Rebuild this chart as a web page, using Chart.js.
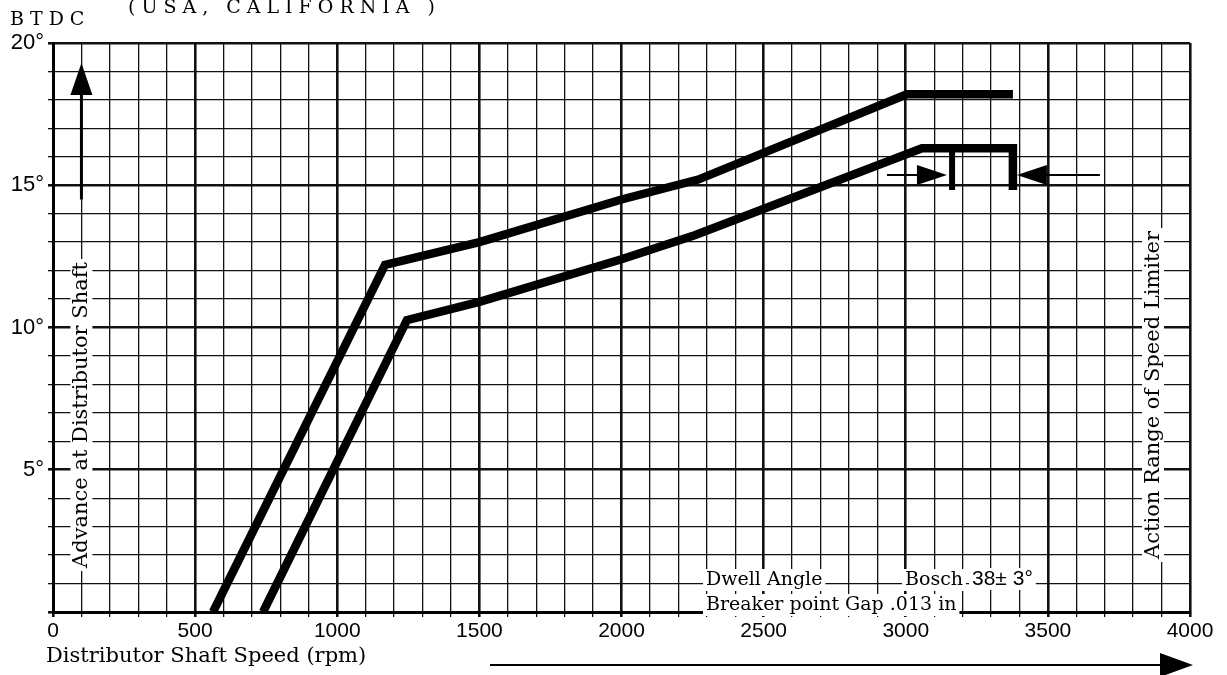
<!DOCTYPE html>
<html>
<head>
<meta charset="utf-8">
<script src="https://cdn.jsdelivr.net/npm/chart.js@4/dist/chart.umd.min.js"></script>
<style>
  html, body { margin: 0; padding: 0; background: #fff; }
</style>
</head>
<body>
<canvas id="advance" width="1227" height="675"></canvas>
<script>
// centrifugal advance curves, rpm vs degrees BTDC
const upperRpm = [563, 1168, 1500, 2000, 2270, 3004, 3377];
const upperAdv = [0, 12.2, 13.0, 14.5, 15.2, 18.2, 18.2];
const lowerRpm = [739, 1245, 1500, 2000, 2260, 3057, 3377, 3377];
const lowerAdv = [0, 10.26, 10.9, 12.4, 13.25, 16.3, 16.3, 14.83];
// speed limiter stop
const limiterRpm = [3163, 3163];
const limiterAdv = [16.3, 14.83];
const stopArrowAdv = 15.36;
const leftArrowRpm = [2934, 3145];
const rightArrowRpm = [3391, 3683];

const xLabelStep = 500;
const yLabelStep = 5;

const pts = (xs, ys) => xs.map((v, i) => ({ x: v, y: ys[i] }));

const serif = '"DejaVu Serif", serif';
const sans = '"Liberation Sans", Arial, sans-serif';

function boxedText(ctx, text, x, y, font, align) {
  ctx.font = font;
  ctx.textAlign = align || 'left';
  ctx.textBaseline = 'middle';
  const w = ctx.measureText(text).width;
  const left = align === 'center' ? x - w / 2 : x;
  ctx.fillStyle = '#fff';
  ctx.fillRect(left - 3, y - 11, w + 6, 22);
  ctx.fillStyle = '#000';
  ctx.fillText(text, x, y);
}

function triangle(ctx, tipX, tipY, dir, len, half) {
  ctx.beginPath();
  if (dir === 'right') {
    ctx.moveTo(tipX, tipY); ctx.lineTo(tipX - len, tipY - half); ctx.lineTo(tipX - len, tipY + half);
  } else if (dir === 'left') {
    ctx.moveTo(tipX, tipY); ctx.lineTo(tipX + len, tipY - half); ctx.lineTo(tipX + len, tipY + half);
  } else {
    ctx.moveTo(tipX, tipY); ctx.lineTo(tipX - half, tipY + len); ctx.lineTo(tipX + half, tipY + len);
  }
  ctx.closePath();
  ctx.fill();
}

const decor = {
  id: 'decor',
  beforeDatasetsDraw(chart) {
    const { ctx, scales: { x } } = chart;
    ctx.save();
    // rotated titles inside the grid
    ctx.save();
    ctx.translate(x.getPixelForValue(100), 415);
    ctx.rotate(-Math.PI / 2);
    boxedText(ctx, 'Advance at Distributor Shaft', 0, 0, '21px ' + serif, 'center');
    ctx.restore();
    ctx.save();
    ctx.translate(x.getPixelForValue(3870), 395);
    ctx.rotate(-Math.PI / 2);
    boxedText(ctx, 'Action Range of Speed Limiter', 0, 0, '21px ' + serif, 'center');
    ctx.restore();

    // dwell note
    boxedText(ctx, 'Dwell Angle', 706, 580, '19px ' + serif);
    boxedText(ctx, 'Bosch', 905, 580, '19px ' + serif);
    boxedText(ctx, '38± 3°', 972, 579, '21px ' + sans);
    boxedText(ctx, 'Breaker point Gap .013 in', 706, 605, '19px ' + serif);
    ctx.restore();
  },
  afterDraw(chart) {
    const { ctx, scales: { x, y } } = chart;
    ctx.save();
    ctx.fillStyle = '#000';
    ctx.strokeStyle = '#000';

    // limiter arrows
    const ay = y.getPixelForValue(stopArrowAdv);
    ctx.lineWidth = 2;
    ctx.beginPath();
    ctx.moveTo(x.getPixelForValue(leftArrowRpm[0]), ay);
    ctx.lineTo(x.getPixelForValue(leftArrowRpm[1]) - 20, ay);
    ctx.moveTo(x.getPixelForValue(rightArrowRpm[0]) + 20, ay);
    ctx.lineTo(x.getPixelForValue(rightArrowRpm[1]), ay);
    ctx.stroke();
    triangle(ctx, x.getPixelForValue(leftArrowRpm[1]), ay, 'right', 30, 10);
    triangle(ctx, x.getPixelForValue(rightArrowRpm[0]), ay, 'left', 30, 10);

    // advance arrow
    const vx = x.getPixelForValue(100);
    ctx.lineWidth = 3;
    ctx.beginPath();
    ctx.moveTo(vx, y.getPixelForValue(14.5));
    ctx.lineTo(vx, y.getPixelForValue(18.5));
    ctx.stroke();
    triangle(ctx, vx, y.getPixelForValue(19.3), 'up', 32, 11);

    // speed arrow under the axis
    ctx.lineWidth = 2;
    ctx.beginPath();
    ctx.moveTo(490, 665);
    ctx.lineTo(1165, 665);
    ctx.stroke();
    triangle(ctx, 1193, 665, 'right', 33, 12);

    // axis title and header
    ctx.textBaseline = 'alphabetic';
    ctx.textAlign = 'left';
    ctx.font = '21px ' + serif;
    ctx.fillText('Distributor Shaft Speed (rpm)', 46, 662);
    ctx.font = '19px ' + serif;
    ctx.letterSpacing = '6px';
    ctx.fillText('BTDC', 10, 25);
    ctx.fillText('(USA, CALIFORNIA )', 128, 13);
    ctx.restore();
  }
};

const gridWidth = (step) => (c) => (c.tick && Math.round(c.tick.value) % step === 0 ? 2.6 : 1.3);

new Chart(document.getElementById('advance'), {
  type: 'scatter',
  data: {
    datasets: [
      { data: pts(upperRpm, upperAdv), borderWidth: 8.5 },
      { data: pts(lowerRpm, lowerAdv), borderWidth: 8.5 },
      { data: pts(limiterRpm, limiterAdv), borderWidth: 6 }
    ].map(d => Object.assign({
      showLine: true,
      borderColor: '#000',
      backgroundColor: '#000',
      pointRadius: 0,
      borderJoinStyle: 'miter',
      borderCapStyle: 'butt',
      tension: 0
    }, d))
  },
  options: {
    responsive: false,
    animation: false,
    devicePixelRatio: 1,
    layout: { padding: { left: 0, top: 43, right: 37, bottom: 0 } },
    plugins: { legend: { display: false }, tooltip: { enabled: false } },
    scales: {
      x: {
        type: 'linear',
        min: 0, max: 4000,
        afterFit: (s) => { s.height = 63; },
        border: { display: true, color: '#000', width: 3 },
        grid: { color: '#111', lineWidth: gridWidth(xLabelStep), tickLength: 5 },
        ticks: {
          stepSize: 100, autoSkip: false, maxRotation: 0, padding: 2,
          color: '#000', font: { family: 'Liberation Sans', size: 21 },
          callback: (v) => (v % xLabelStep === 0 ? String(v) : '')
        }
      },
      y: {
        min: 0, max: 20,
        afterFit: (s) => { s.width = 53; },
        border: { display: true, color: '#000', width: 3 },
        grid: { color: '#111', lineWidth: gridWidth(yLabelStep), tickLength: 5 },
        ticks: {
          stepSize: 1, autoSkip: false, padding: 4,
          color: '#000', font: { family: 'Liberation Sans', size: 22 },
          callback: (v) => (v > 0 && v % yLabelStep === 0 ? v + '°' : '')
        }
      }
    }
  },
  plugins: [decor]
});
</script>
</body>
</html>
